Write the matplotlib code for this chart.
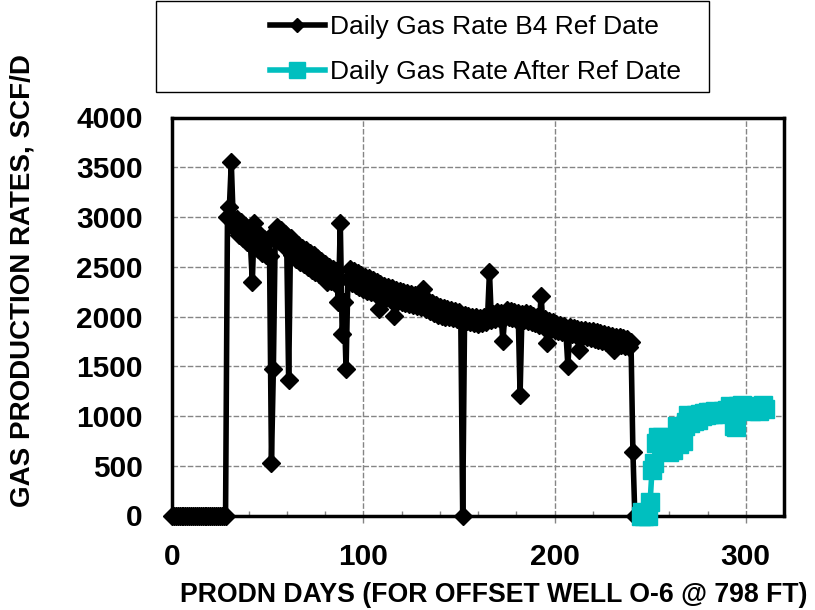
import matplotlib
matplotlib.use("Agg")
import matplotlib.pyplot as plt
from matplotlib.patches import Rectangle
from matplotlib.ticker import MultipleLocator

plt.rcParams['font.family'] = ['Liberation Sans', 'DejaVu Sans']

# ---------------- data ----------------
b4_days = list(range(0, 243))
b4_rate = (
    [0] * 29 +
    [3000, 3100, 3550, 2980] +
    [2880, 2980, 2820, 2950, 2790, 2910] +
    [2750, 2880, 2730] +
    [2350, 2940] +
    [2830, 2680, 2820, 2640, 2780, 2620, 2760, 2610] +
    [530, 1470] +
    [2850, 2900, 2760, 2870, 2720, 2830, 2690] +
    [1360] +
    [2790, 2620, 2750, 2580, 2720, 2550, 2690, 2530, 2670, 2500,
     2640, 2470, 2620, 2450, 2590, 2430, 2560, 2400, 2530] +
    [2350] +
    [2500, 2360, 2480, 2340, 2460] +
    [2150, 2940, 1820, 2150, 1470] +
    [2380, 2480, 2340, 2460, 2320, 2440, 2300, 2420, 2280, 2400,
     2260, 2390, 2250, 2370, 2240, 2350] +
    [2080] +
    [2330, 2210, 2310, 2190, 2300, 2180, 2290] +
    [2010] +
    [2270, 2160, 2260, 2150, 2250, 2140, 2240, 2130, 2230, 2120,
     2220, 2110, 2200, 2100] +
    [2280] +
    [2180, 2080, 2160, 2060, 2140, 2040, 2120, 2020, 2100, 2010,
     2090, 2000, 2080, 1990, 2070, 1980, 2060, 1970, 2050, 1960] +
    [0] +
    [2020, 1950, 2010, 1940, 2000, 1930,
     1990, 1920, 1980, 1930, 1990, 1940, 2000, 2450, 1960, 2030,
     1970, 2050, 1980, 2040, 1750, 2000, 2070, 1990, 2060, 1980,
     2050, 1970, 2040, 1210, 2030, 1960, 2040, 1950, 2030, 1940,
     2010, 1930, 2000, 1910, 2210, 1900, 1970, 1730, 1950, 1870,
     1940, 1860, 1920, 1850, 1910, 1840, 1900, 1830, 1500, 1890,
     1820, 1880, 1810, 1870, 1660, 1860, 1800, 1860, 1790, 1850,
     1780, 1850, 1770, 1840, 1760, 1830, 1750, 1820, 1740, 1810,
     1730, 1800, 1660, 1790, 1720, 1790, 1710, 1780, 1700, 1770,
     1690, 1740, 640, 0]
)
assert len(b4_rate) == len(b4_days), len(b4_rate)

after_days = list(range(245, 311))
after_rate = [0, 40, 0, 20, 0, 140, 460, 530, 730, 790,
              740, 790, 720, 780, 700, 640, 720, 660, 730, 900,
              720, 880, 750, 900, 940, 1010, 930, 1000, 950, 1010,
              960, 1020, 1000, 1030, 1010, 1040, 1020, 1040, 1020, 1050,
              1030, 1040, 1020, 1050, 1040, 1060, 1050, 1100, 1070, 900,
              890, 1100, 1060, 1110, 1070, 1100, 1060, 1090, 1050, 1080,
              1060, 1090, 1050, 1080, 1110, 1070]

label_b4 = "Daily Gas Rate B4 Ref Date"
label_after = "Daily Gas Rate After Ref Date"
x_label = "PRODN DAYS (FOR OFFSET WELL O-6 @ 798 FT)"
y_label = "GAS PRODUCTION RATES, SCF/D"
x_ticks = [0, 100, 200, 300]
y_ticks = [0, 500, 1000, 1500, 2000, 2500, 3000, 3500, 4000]

CYAN = '#00BFBF'

# ---------------- figure ----------------
W, H = 815, 610
fig = plt.figure(figsize=(W / 100, H / 100), dpi=100)
ax = fig.add_axes([172 / W, 1 - 515.5 / H, (784 - 172) / W, (515.5 - 117.5) / H])

l1, = ax.plot(b4_days, b4_rate, color='black', lw=4.0, marker='D', ms=8.8,
              mfc='black', mec='black', clip_on=False, zorder=4)
l2, = ax.plot(after_days, after_rate, color=CYAN, lw=4.0, marker='s', ms=13,
              mfc=CYAN, mec=CYAN, clip_on=False, zorder=5)

ax.set_xlim(0, 320)
ax.set_ylim(0, 4000)
ax.set_xticks(x_ticks)
ax.set_yticks(y_ticks)
ax.xaxis.set_minor_locator(MultipleLocator(20))

ax.grid(True, which='major', color='#858585', linestyle=(0, (4, 1.5)), linewidth=1.0)
ax.set_axisbelow(True)

ax.tick_params(axis='y', which='both', length=0, pad=21,
               labelsize=21.5)
ax.tick_params(axis='x', which='major', direction='out', length=5, width=1,
               color='#858585', pad=15, labelsize=21.5)
ax.tick_params(axis='x', which='minor', direction='in', length=3.5, width=1,
               color='#858585')
for lab in ax.get_xticklabels() + ax.get_yticklabels():
    lab.set_fontweight('bold')

for s in ax.spines.values():
    s.set_linewidth(2.5)
    s.set_color('black')

fig.text(493.5 / W, 1 - 594.5 / H, x_label, ha='center', va='center',
         fontsize=19.2, fontweight='bold')
fig.text(22.7 / W, 1 - 281 / H, y_label, ha='center', va='center',
         rotation=90, fontsize=20, fontweight='bold')

# legend
fig.add_artist(Rectangle((156 / W, 1 - 92 / H), (709 - 156) / W, 91 / H,
                         transform=fig.transFigure, fill=False,
                         edgecolor='black', lw=1.0))
fig.legend([l1, l2], [label_b4, label_after], loc='upper left',
           bbox_to_anchor=(270 / W, 1 - 15 / H), frameon=False,
           fontsize=19, handlelength=2.08, handletextpad=0.19,
           labelspacing=0.81, borderpad=0, borderaxespad=0,
           markerscale=0.85)

fig.savefig('out.png', dpi=100)
